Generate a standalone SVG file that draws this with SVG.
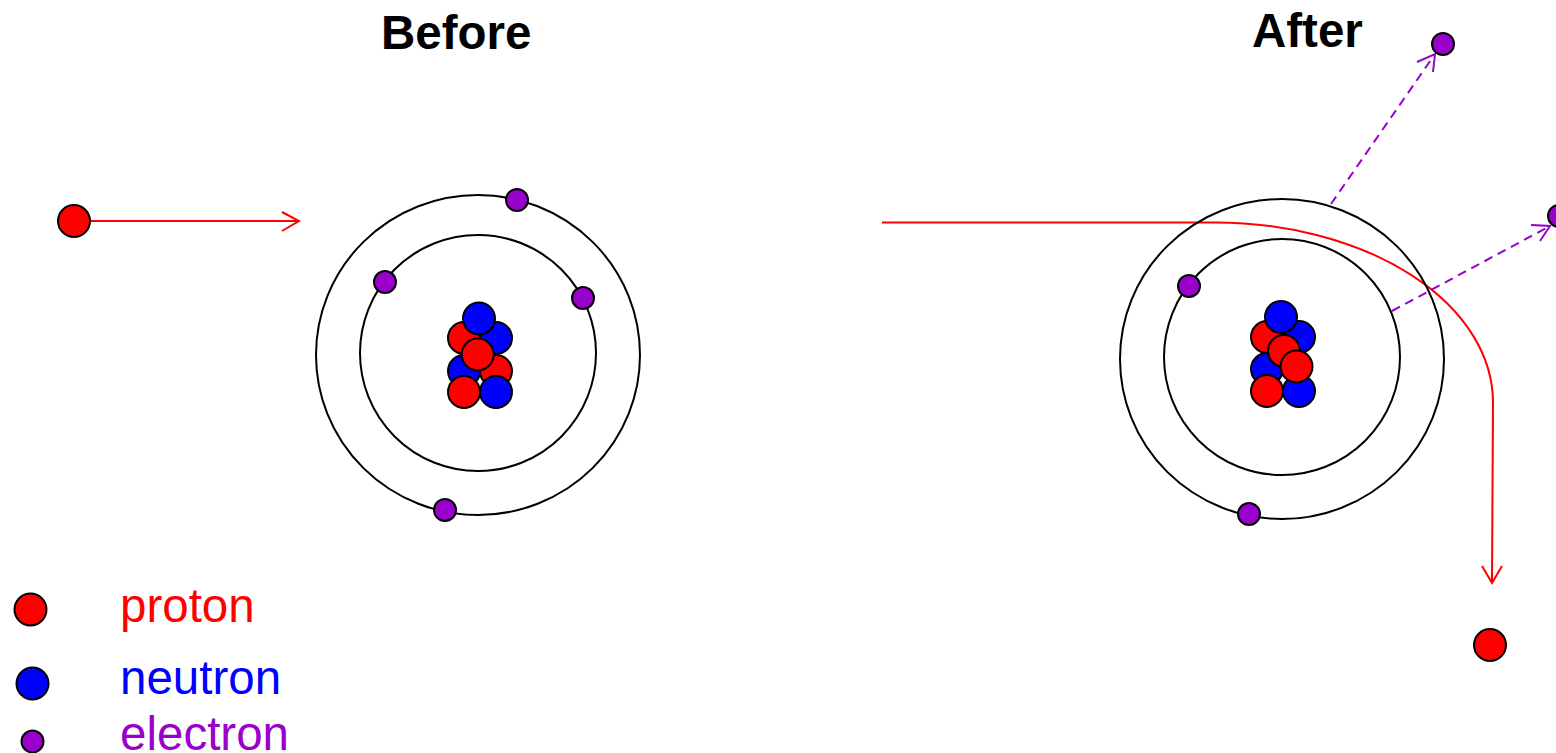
<svg xmlns="http://www.w3.org/2000/svg" width="1556" height="753" viewBox="0 0 1556 753">
  <style>
    text { font-family: "Liberation Sans", Arial, sans-serif; font-size: 47.500px; }
    .title { font-weight: bold; fill: #000; }
    .orbit { fill: none; stroke: #000; stroke-width: 2; }
    .p, .n, .e { stroke: #000; stroke-width: 2; }
    .p { fill: #f00; }
    .n { fill: #00f; }
    .e { fill: #90c; }
    .track { fill: none; stroke: #f00; stroke-width: 2; }
    .emit { fill: none; stroke: #90c; stroke-width: 2; stroke-dasharray: 9 6; }
    .head { fill: none; stroke-width: 2; }
  </style>
  <rect width="1556" height="753" fill="#fff"/>

  <g id="connectors">
    <path class="track" d="M90 221H298"/>
    <path class="head" stroke="#f00" d="M282 212L299 221L282 231"/>
    <path class="track" d="M882 222.500H1215A278 180 0 0 1 1493 403L1492 583"/>
    <path class="head" stroke="#f00" d="M1482 566L1492 583L1502 566"/>
    <path class="emit" d="M1331 204L1435 54"/>
    <path class="head" stroke="#90c" d="M1417 62L1435 54L1433 72"/>
    <path class="emit" d="M1392 311L1550 226"/>
    <path class="head" stroke="#90c" d="M1531 225L1550 226L1540 241"/>
  </g>

  <g id="title-before"><text class="title" x="381" y="49">Before</text></g>
  <g id="title-after"><text class="title" x="1252" y="47">After</text></g>

  <g id="atom-before">
    <ellipse class="orbit" cx="478" cy="355" rx="162" ry="160"/>
    <circle class="orbit" cx="478" cy="353" r="118"/>
    <circle class="p" cx="464" cy="338" r="16"/>
    <circle class="n" cx="496" cy="338" r="16"/>
    <circle class="n" cx="464" cy="371" r="16"/>
    <circle class="p" cx="496" cy="371" r="16"/>
    <circle class="p" cx="464" cy="392" r="16"/>
    <circle class="n" cx="496" cy="392" r="16"/>
    <circle class="n" cx="479" cy="318.500" r="16"/>
    <circle class="p" cx="477.700" cy="354.500" r="16"/>
    <circle class="e" cx="517" cy="200" r="11"/>
    <circle class="e" cx="385" cy="282" r="11"/>
    <circle class="e" cx="583" cy="298" r="11"/>
    <circle class="e" cx="445" cy="510" r="11"/>
  </g>

  <g id="atom-after">
    <ellipse class="orbit" cx="1282" cy="359" rx="162" ry="160"/>
    <circle class="orbit" cx="1282" cy="357" r="118"/>
    <circle class="p" cx="1267" cy="337" r="16"/>
    <circle class="n" cx="1299" cy="337" r="16"/>
    <circle class="n" cx="1267" cy="369" r="16"/>
    <circle class="p" cx="1267" cy="391" r="16"/>
    <circle class="n" cx="1299" cy="391" r="16"/>
    <circle class="n" cx="1281" cy="317" r="16"/>
    <circle class="p" cx="1284" cy="351" r="16"/>
    <circle class="p" cx="1296.500" cy="366.500" r="16"/>
    <circle class="e" cx="1189" cy="286" r="11"/>
    <circle class="e" cx="1249" cy="514" r="11"/>
  </g>

  <g id="incoming-proton"><circle class="p" cx="74" cy="221" r="16"/></g>
  <g id="scattered-proton"><circle class="p" cx="1490" cy="645" r="16"/></g>
  <g id="ejected-electron-upper"><circle class="e" cx="1443" cy="44" r="11"/></g>
  <g id="ejected-electron-right"><circle class="e" cx="1559" cy="216" r="11"/></g>

  <g id="legend-proton">
    <circle class="p" cx="30.500" cy="609.500" r="16"/>
    <text x="120" y="622" fill="#f00">proton</text>
  </g>
  <g id="legend-neutron">
    <circle class="n" cx="32.500" cy="683.500" r="16"/>
    <text x="120" y="694" fill="#00f">neutron</text>
  </g>
  <g id="legend-electron">
    <circle class="e" cx="32.500" cy="741.500" r="11"/>
    <text x="120" y="750" fill="#90c">electron</text>
  </g>
</svg>
